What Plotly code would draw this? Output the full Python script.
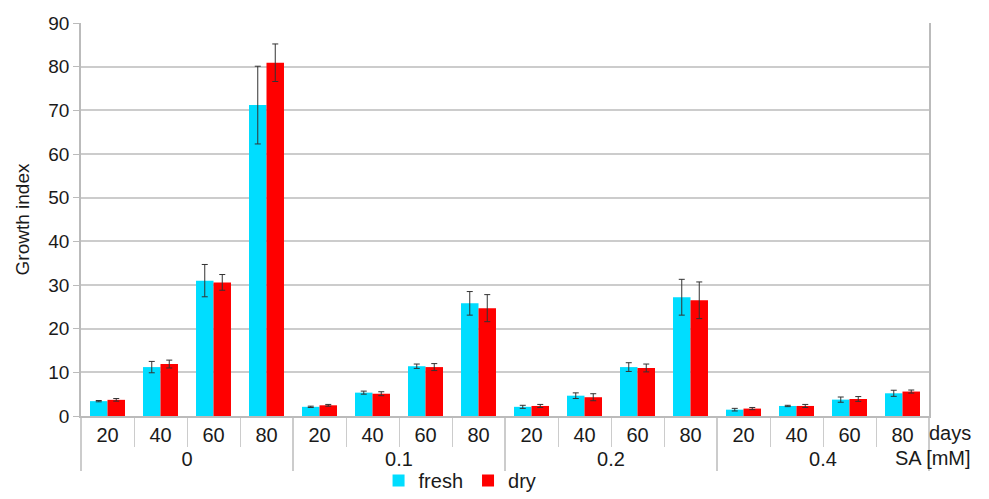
import plotly.graph_objects as go

sa_levels = ["0", "0.1", "0.2", "0.4"]
days = ["20", "40", "60", "80"]

fresh = [3.4, 11.2, 31.0, 71.2,
         2.1, 5.35, 11.4, 25.8,
         2.1, 4.65, 11.2, 27.2,
         1.45, 2.3, 3.75, 5.2]
fresh_err = [0.15, 1.3, 3.7, 8.9,
             0.15, 0.35, 0.5, 2.7,
             0.35, 0.65, 1.0, 4.1,
             0.3, 0.15, 0.6, 0.7]
dry = [3.7, 11.9, 30.6, 80.9,
       2.45, 5.1, 11.2, 24.7,
       2.3, 4.3, 11.0, 26.5,
       1.7, 2.3, 3.9, 5.6]
dry_err = [0.3, 0.9, 1.8, 4.3,
           0.2, 0.45, 0.8, 3.1,
           0.35, 0.8, 0.9, 4.2,
           0.25, 0.35, 0.55, 0.35]

x_outer = [s for s in sa_levels for _ in days]
x_inner = [d for _ in sa_levels for d in days]
x = [x_outer, x_inner]

FONT = "Liberation Sans, Arial, sans-serif"
TXT = "#1a1a1a"

fig = go.Figure()
fig.add_trace(go.Bar(
    x=x, y=fresh, name="fresh", marker_color="#00DDFF",
    marker_line=dict(width=0),
    error_y=dict(type="data", array=fresh_err, color="#333333", thickness=1, width=3),
))
fig.add_trace(go.Bar(
    x=x, y=dry, name="dry", marker_color="#FF0000",
    marker_line=dict(width=0),
    error_y=dict(type="data", array=dry_err, color="#333333", thickness=1, width=3),
))

# page body has an 8px margin, so the figure is sized/offset to compensate
fig.update_layout(
    width=981, height=491,
    margin=dict(l=73, r=60, t=15, b=83, autoexpand=False),
    plot_bgcolor="white", paper_bgcolor="white",
    font=dict(family=FONT, size=20, color=TXT),
    barmode="group", bargap=0.34, bargroupgap=0,
    showlegend=True,
    legend=dict(orientation="h", x=0.447, xanchor="center", y=-0.214, yanchor="bottom",
                font=dict(size=20), itemwidth=30, tracegroupgap=0,
                bgcolor="rgba(0,0,0,0)", borderwidth=0),
)
fig.update_yaxes(
    range=[0, 90], dtick=10, showgrid=True, gridcolor="#cccccc", gridwidth=1.5,
    showline=True, linecolor="#bbbbbb", linewidth=1.5, mirror=True,
    ticks="outside", ticklen=6, tickcolor="#bbbbbb",
    tickfont=dict(size=19),
    zeroline=False, automargin=False,
    title=dict(text="Growth index", font=dict(size=19), standoff=14),
)
fig.update_xaxes(
    type="multicategory", automargin=False,
    showline=True, linecolor="#bbbbbb", linewidth=1.5,
    ticks="outside", ticklen=29, tickcolor="#cccccc", tickson="boundaries",
    showdividers=True, dividercolor="#cccccc", dividerwidth=1.5,
    tickfont=dict(size=20),
    showgrid=False,
)
fig.add_annotation(text="days", x=1.0, xref="paper", xanchor="left", xshift=-2,
                   y=-0.042, yref="paper", yanchor="middle", showarrow=False,
                   font=dict(size=20, family=FONT, color=TXT))
fig.add_annotation(text="SA [mM]", x=1.0, xref="paper", xanchor="right", xshift=44,
                   y=-0.107, yref="paper", yanchor="middle", showarrow=False,
                   font=dict(size=20, family=FONT, color=TXT))

fig.write_html("out.html")
